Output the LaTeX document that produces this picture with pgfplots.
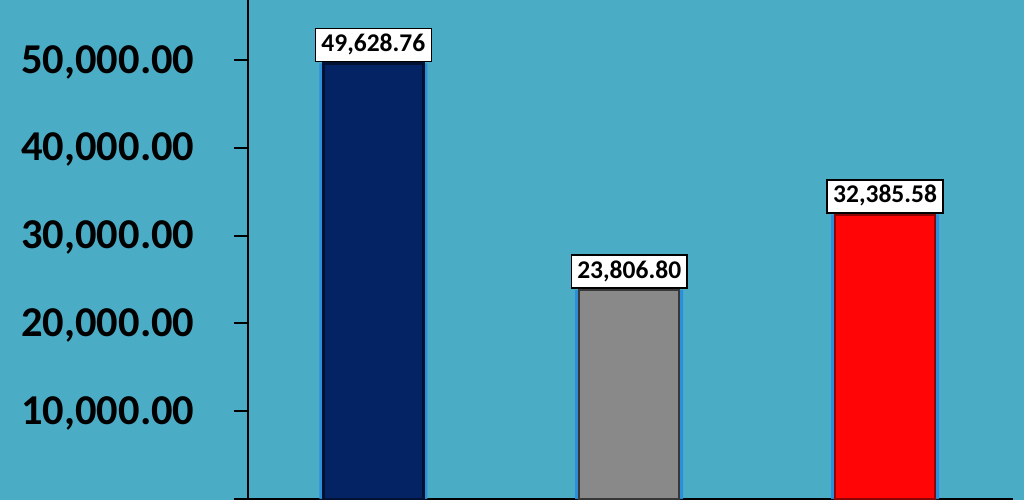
\documentclass[border=0pt]{standalone}
\usepackage{fontspec}
\setmainfont{Carlito}
\usepackage{pgfplots}
\pgfplotsset{compat=1.18}
\definecolor{bg}{RGB}{75,172,198}
\definecolor{navy}{RGB}{3,35,100}
\definecolor{grayb}{RGB}{137,137,137}
\definecolor{redb}{RGB}{255,5,5}
\definecolor{glow}{RGB}{40,140,220}
\begin{document}
\begin{tikzpicture}
\useasboundingbox (0,0) rectangle (1024pt,500pt);
\fill[bg] (0,0) rectangle (1024pt,500pt);
\begin{axis}[
  at={(248pt,1pt)}, anchor=south west, scale only axis,
  width=765pt, height=499pt,
  xmin=-0.49, xmax=2.5, ymin=0, ymax=56834,
  axis lines*=left,
  axis line style={line width=2pt, black},
  xtick=\empty,
  scaled y ticks=false,
  ytick={10000,20000,30000,40000,50000},
  extra y ticks={0}, extra y tick labels={},
  tick align=outside, major tick length=14pt,
  ytick style={line width=2pt, black},
  yticklabel style={font=\bfseries\fontsize{42.5}{50}\selectfont, xshift=-36pt, yshift=-2pt,
    /pgf/number format/fixed, /pgf/number format/fixed zerofill,
    /pgf/number format/precision=2, /pgf/number format/1000 sep={,},
    /pgf/number format/assume math mode=true},
  ybar, bar shift=0pt,
  clip=false,
  point meta=explicit symbolic,
  nodes near coords style={fill=white, draw=black, line width=1.5pt, anchor=south,
    font=\bfseries\fontsize{25.5}{30}\selectfont, inner xsep=6pt, inner ysep=6pt,
    text height=17pt, text depth=4pt, yshift=1pt},
]
% glow
\addplot[fill=glow, draw=none, bar width=108pt, opacity=0.9] coordinates {(0,49628.76) (1,23806.80) (2,32385.58)};
% bars
\addplot[fill=navy, draw=navy!50!black, line width=2.5pt, bar width=100pt, nodes near coords] coordinates {(0,49628.76) [49,628.76]};
\addplot[fill=grayb, draw=grayb!40!black, line width=2.5pt, bar width=100pt, nodes near coords] coordinates {(1,23806.80) [23,806.80]};
\addplot[fill=redb, draw=redb!55!black, line width=2.5pt, bar width=100pt, nodes near coords] coordinates {(2,32385.58) [32,385.58]};
\end{axis}
\end{tikzpicture}
\end{document}
